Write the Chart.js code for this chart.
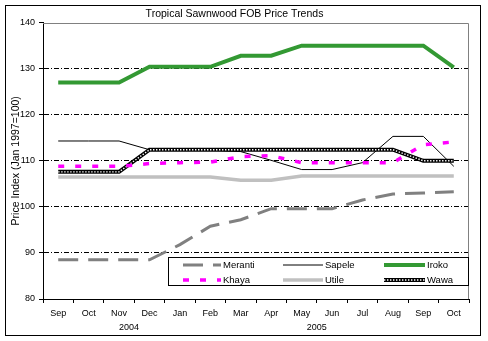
<!DOCTYPE html>
<html><head><meta charset="utf-8">
<script src="https://cdn.jsdelivr.net/npm/chart.js@4.4.1/dist/chart.umd.min.js"></script>
<style>html,body{margin:0;padding:0;background:#fff;}canvas{display:block;}</style>
</head><body>
<canvas id="c" width="488" height="341"></canvas>
<script>
const months = ['Sep','Oct','Nov','Dec','Jan','Feb','Mar','Apr','May','Jun','Jul','Aug','Sep','Oct'];
const years = ['2004','2005'];
const yearCenters = [2.33, 8.5];
const meranti = [88.5,88.5,88.5,88.5,91.8,95.8,97.2,99.6,99.6,99.6,101.5,102.8,103.0,103.3];
const khaya   = [108.8,108.8,108.8,109.4,109.6,109.7,110.9,111.1,109.6,109.6,109.6,109.6,113.5,114.1];
const sapele  = [114.3,114.3,114.3,112.4,112.4,112.3,112.0,110.1,108.1,108.1,109.6,115.3,115.3,108.8];
const utile   = [106.5,106.5,106.5,106.5,106.5,106.5,105.8,105.8,106.7,106.7,106.7,106.7,106.7,106.7];
const iroko   = [127.0,127.0,127.0,130.4,130.4,130.4,132.8,132.8,135.0,135.0,135.0,135.0,135.0,130.3];
const wawa    = [107.6,107.6,107.6,112.4,112.4,112.4,112.4,112.4,112.4,112.4,112.4,112.4,110.0,110.0];

const FONT = "'Liberation Sans', Arial, sans-serif";
Chart.defaults.font.family = FONT;
Chart.defaults.color = '#000';

function wawaDots(ctx, pts){
  ctx.save();
  ctx.strokeStyle = '#fff'; ctx.lineWidth = 1.4; ctx.setLineDash([1.4,1.6]);
  ctx.beginPath();
  pts.forEach((p,i)=> i ? ctx.lineTo(p.x,p.y) : ctx.moveTo(p.x,p.y));
  ctx.stroke(); ctx.restore();
}

const framePlugin = {
  id: 'frame',
  beforeDraw(chart){
    const c = chart.ctx; c.save();
    c.fillStyle = '#fff'; c.fillRect(0,0,chart.width,chart.height);
    c.strokeStyle = '#000'; c.lineWidth = 1; c.strokeRect(5.5,5.5,475,330);
    c.restore();
  },
  beforeDatasetsDraw(chart){
    const {ctx, chartArea:a} = chart; ctx.save();
    ctx.strokeStyle = '#808080'; ctx.lineWidth = 1;
    const t = Math.round(a.top)+0.5, r = Math.round(a.right)-0.5;
    ctx.beginPath(); ctx.moveTo(a.left, t); ctx.lineTo(r, t); ctx.lineTo(r, a.bottom); ctx.stroke();
    ctx.restore();
  },
  afterDatasetDraw(chart, args){
    const ds = chart.data.datasets[args.index];
    if (ds.label === 'Wawa') wawaDots(chart.ctx, args.meta.data);
  },
  afterDraw(chart){
    const {ctx, chartArea:a, scales:{x}} = chart;
    ctx.save();
    ctx.font = '9px ' + FONT; ctx.fillStyle = '#000'; ctx.textAlign = 'center'; ctx.textBaseline = 'middle';
    years.forEach((y,i)=> ctx.fillText(y, x.getPixelForValue(yearCenters[i]), a.bottom + 29));
    const L = 168, T = a.bottom - 42, R = Math.round(a.right), B = a.bottom - 13;
    ctx.fillStyle = '#fff'; ctx.fillRect(L, T, R-L, B-T);
    ctx.strokeStyle = '#000'; ctx.lineWidth = 1; ctx.strokeRect(L+0.5, T+0.5, R-L-1, B-T-1);
    const layout = [['Meranti','Sapele','Iroko'],['Khaya','Utile','Wawa']];
    const colX = [183, 283, 384], sampleW = [38, 40, 41];
    const rowY = [T+7.5, T+22.5];
    layout.forEach((row, ri)=> row.forEach((name, ci)=>{
      const ds = chart.data.datasets.find(d=>d.label===name);
      const x0 = colX[ci], x1 = colX[ci]+sampleW[ci], y = Math.round(rowY[ri]);
      ctx.save();
      ctx.strokeStyle = ds.borderColor; ctx.lineWidth = ds.borderWidth;
      ctx.setLineDash(ds.borderDash || []);
      ctx.beginPath(); ctx.moveTo(x0, y); ctx.lineTo(x1, y); ctx.stroke();
      ctx.restore();
      if (name === 'Wawa') wawaDots(ctx, [{x:x0,y},{x:x1,y}]);
      ctx.fillStyle = '#000'; ctx.textAlign = 'left'; ctx.textBaseline = 'middle';
      ctx.font = '9.5px ' + FONT;
      ctx.fillText(name, x1 + 2, y);
    }));
    ctx.restore();
  }
};

const mk = (label, data, color, width, dash, order) => ({
  label, data, borderColor: color, backgroundColor: color, borderWidth: width,
  borderDash: dash, pointRadius: 0, tension: 0, fill: false, order,
  borderCapStyle: 'butt', borderJoinStyle: 'miter'
});

new Chart(document.getElementById('c'), {
  type: 'line',
  data: {
    labels: months,
    datasets: [
      mk('Meranti', meranti, '#808080', 3, [20,10], 5),
      mk('Khaya', khaya, '#ff00ff', 3.5, [6,11], 1),
      mk('Sapele', sapele, '#000000', 1, [], 3),
      mk('Utile', utile, '#c0c0c0', 3.5, [], 6),
      mk('Iroko', iroko, '#339933', 4, [], 4),
      mk('Wawa', wawa, '#000000', 4, [], 2)
    ]
  },
  options: {
    responsive: false, animation: false, devicePixelRatio: 1,
    layout: { padding: { left: 0, right: 19, top: 0, bottom: 0 } },
    plugins: {
      legend: { display: false }, tooltip: { enabled: false },
      title: { display: true, text: 'Tropical Sawnwood FOB Price Trends', color: '#000',
               font: { size: 10.5, weight: 'normal' }, padding: { top: 8, bottom: 2 } }
    },
    scales: {
      x: {
        offset: true,
        grid: { offset: true, drawOnChartArea: false, tickLength: 4, color: '#000', tickColor: '#000' },
        border: { color: '#000', width: 1 },
        ticks: { font: { size: 9 }, padding: 5, maxRotation: 0, autoSkip: false },
        afterFit(s){ s.height = 42; }
      },
      y: {
        min: 80, max: 140,
        ticks: { stepSize: 10, font: { size: 9 }, padding: 4 },
        grid: { color: c => (c.tick && c.tick.value > 80 && c.tick.value < 140) ? '#000' : 'rgba(0,0,0,0)',
                tickColor: '#000', tickLength: 4, lineWidth: 1, tickBorderDash: [] },
        border: { color: '#000', width: 1, dash: [5,2,1,2] },
        title: { display: true, text: 'Price Index (Jan 1997=100)', font: { size: 10.5 }, padding: { top: 10, bottom: 0 } },
        afterFit(s){ s.width = 43; }
      }
    }
  },
  plugins: [framePlugin]
});
</script>
</body></html>
